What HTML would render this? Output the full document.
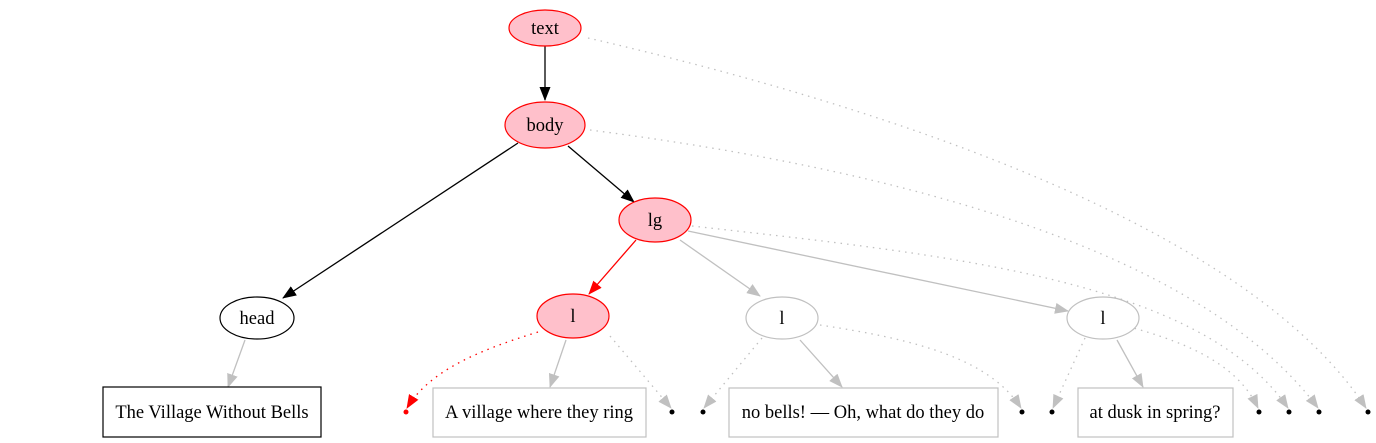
<!DOCTYPE html>
<html><head><meta charset="utf-8"><style>body{margin:0;background:#fff}svg{display:block}text{font-family:"Liberation Serif",serif;font-size:18.5px}</style></head><body>
<svg width="1376" height="443" viewBox="0 0 1376 443">
<defs>
<marker id="ab" markerWidth="14" markerHeight="11" refX="13" refY="5.5" orient="auto" markerUnits="userSpaceOnUse"><path d="M0,0L14,5.5L0,11z" fill="#000"/></marker>
<marker id="ar" markerWidth="14" markerHeight="11" refX="13" refY="5.5" orient="auto" markerUnits="userSpaceOnUse"><path d="M0,0L14,5.5L0,11z" fill="#f00"/></marker>
<marker id="ag" markerWidth="14" markerHeight="11" refX="13" refY="5.5" orient="auto" markerUnits="userSpaceOnUse"><path d="M0,0L14,5.5L0,11z" fill="#c0c0c0"/></marker>
</defs>
<g fill="none" stroke-width="1.3">
<path d="M545,46L545,100" stroke="#000" marker-end="url(#ab)"/>
<path d="M518,143L283,298" stroke="#000" marker-end="url(#ab)"/>
<path d="M568,146L634,202" stroke="#000" marker-end="url(#ab)"/>
<path d="M636,240L589,294" stroke="#f00" marker-end="url(#ar)"/>
<path d="M680,240L760,296" stroke="#c0c0c0" marker-end="url(#ag)"/>
<path d="M688,231L1068,311" stroke="#c0c0c0" marker-end="url(#ag)"/>
<path d="M245,340L228,387" stroke="#c0c0c0" marker-end="url(#ag)"/>
<path d="M566,340L550,387" stroke="#c0c0c0" marker-end="url(#ag)"/>
<path d="M800,340L842,387" stroke="#c0c0c0" marker-end="url(#ag)"/>
<path d="M1117,340L1143,387" stroke="#c0c0c0" marker-end="url(#ag)"/>
<g stroke-dasharray="1.5,5" stroke="#c0c0c0">
<path d="M588,38C900,110 1250,230 1366,408" marker-end="url(#ag)"/>
<path d="M590,130C900,170 1200,250 1318,408" marker-end="url(#ag)"/>
<path d="M692,226C950,255 1200,280 1288,408" marker-end="url(#ag)"/>
<path d="M610,336L671,408" marker-end="url(#ag)"/>
<path d="M762,338L704,408" marker-end="url(#ag)"/>
<path d="M820,325C920,340 990,360 1021,408" marker-end="url(#ag)"/>
<path d="M1085,338L1053,408" marker-end="url(#ag)"/>
<path d="M1122,325C1200,345 1240,370 1258,408" marker-end="url(#ag)"/>
</g>
<path d="M538,332C480,350 430,370 407,408" stroke="#f00" stroke-dasharray="1.5,5" marker-end="url(#ar)"/>
</g>
<g stroke-width="1.2">
<ellipse cx="545" cy="28" rx="36" ry="18" fill="#ffc0cb" stroke="#f00"/>
<ellipse cx="545" cy="125" rx="40" ry="23" fill="#ffc0cb" stroke="#f00"/>
<ellipse cx="655" cy="220" rx="36" ry="22" fill="#ffc0cb" stroke="#f00"/>
<ellipse cx="257" cy="318" rx="37" ry="21" fill="#fff" stroke="#000"/>
<ellipse cx="573" cy="316" rx="36" ry="22" fill="#ffc0cb" stroke="#f00"/>
<ellipse cx="782" cy="318" rx="36" ry="21" fill="#fff" stroke="#c0c0c0"/>
<ellipse cx="1103" cy="318" rx="36" ry="21" fill="#fff" stroke="#c0c0c0"/>
<rect x="103" y="387" width="218" height="50" fill="#fff" stroke="#000"/>
<rect x="433" y="388" width="213" height="49" fill="#fff" stroke="#c0c0c0"/>
<rect x="729" y="388" width="269" height="49" fill="#fff" stroke="#c0c0c0"/>
<rect x="1078" y="388" width="155" height="49" fill="#fff" stroke="#c0c0c0"/>
</g>
<circle cx="406" cy="412" r="2.5" fill="#f00"/>
<g fill="#000"><circle cx="672" cy="412" r="2.5"/><circle cx="703" cy="412" r="2.5"/><circle cx="1022" cy="412" r="2.5"/><circle cx="1052" cy="412" r="2.5"/><circle cx="1259" cy="412" r="2.5"/><circle cx="1289" cy="412" r="2.5"/><circle cx="1319" cy="412" r="2.5"/><circle cx="1368" cy="412" r="2.5"/></g>
<g text-anchor="middle">
<text x="545" y="34">text</text>
<text x="545" y="131">body</text>
<text x="655" y="226">lg</text>
<text x="257" y="324">head</text>
<text x="573" y="322">l</text>
<text x="782" y="324">l</text>
<text x="1103" y="324">l</text>
<text x="212" y="418">The Village Without Bells</text>
<text x="539" y="418">A village where they ring</text>
<text x="863" y="418">no bells! — Oh, what do they do</text>
<text x="1155" y="418">at dusk in spring?</text>
</g>
</svg>
</body></html>
